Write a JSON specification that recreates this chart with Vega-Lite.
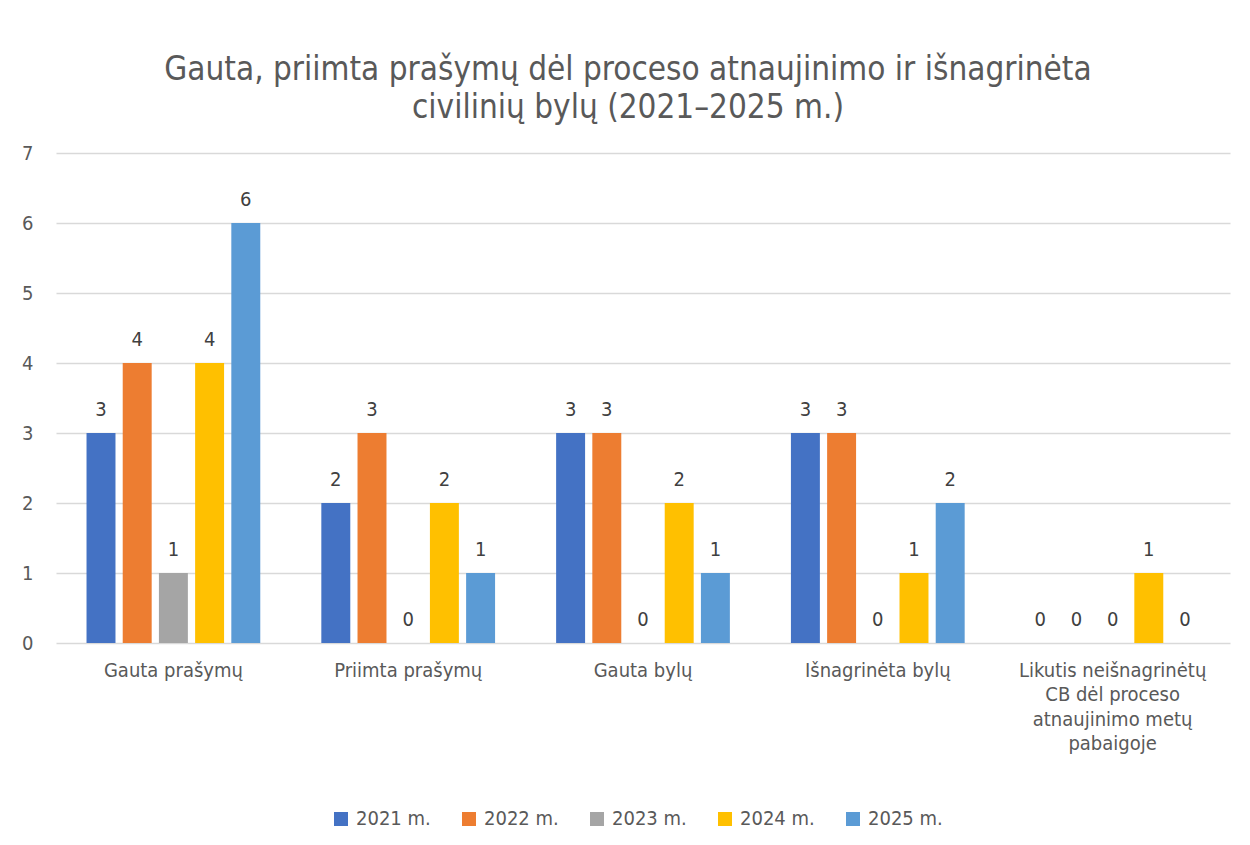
{
  "$schema": "https://vega.github.io/schema/vega-lite/v6.json",
  "width": 1174,
  "height": 490,
  "autosize": {"type": "none"},
  "padding": {"left": 56, "top": 153, "right": 20, "bottom": 202},
  "background": "white",
  "title": {
    "text": ["Gauta, priimta prašymų dėl proceso atnaujinimo ir išnagrinėta", "civilinių bylų (2021–2025 m.)"],
    "font": "DejaVu Sans Condensed, sans-serif",
    "fontSize": 33,
    "fontWeight": "normal",
    "color": "#595959",
    "anchor": "middle",
    "dx": -15,
    "offset": 18,
    "lineHeight": 38
  },
  "config": {
    "font": "DejaVu Sans Condensed, sans-serif",
    "view": {"stroke": null}
  },
  "data": {
    "values": [
      {"category": "Gauta prašymų", "year": "2021 m.", "value": 3},
      {"category": "Gauta prašymų", "year": "2022 m.", "value": 4},
      {"category": "Gauta prašymų", "year": "2023 m.", "value": 1},
      {"category": "Gauta prašymų", "year": "2024 m.", "value": 4},
      {"category": "Gauta prašymų", "year": "2025 m.", "value": 6},
      {"category": "Priimta prašymų", "year": "2021 m.", "value": 2},
      {"category": "Priimta prašymų", "year": "2022 m.", "value": 3},
      {"category": "Priimta prašymų", "year": "2023 m.", "value": 0},
      {"category": "Priimta prašymų", "year": "2024 m.", "value": 2},
      {"category": "Priimta prašymų", "year": "2025 m.", "value": 1},
      {"category": "Gauta bylų", "year": "2021 m.", "value": 3},
      {"category": "Gauta bylų", "year": "2022 m.", "value": 3},
      {"category": "Gauta bylų", "year": "2023 m.", "value": 0},
      {"category": "Gauta bylų", "year": "2024 m.", "value": 2},
      {"category": "Gauta bylų", "year": "2025 m.", "value": 1},
      {"category": "Išnagrinėta bylų", "year": "2021 m.", "value": 3},
      {"category": "Išnagrinėta bylų", "year": "2022 m.", "value": 3},
      {"category": "Išnagrinėta bylų", "year": "2023 m.", "value": 0},
      {"category": "Išnagrinėta bylų", "year": "2024 m.", "value": 1},
      {"category": "Išnagrinėta bylų", "year": "2025 m.", "value": 2},
      {"category": "Likutis neišnagrinėtų CB dėl proceso atnaujinimo metų pabaigoje", "year": "2021 m.", "value": 0},
      {"category": "Likutis neišnagrinėtų CB dėl proceso atnaujinimo metų pabaigoje", "year": "2022 m.", "value": 0},
      {"category": "Likutis neišnagrinėtų CB dėl proceso atnaujinimo metų pabaigoje", "year": "2023 m.", "value": 0},
      {"category": "Likutis neišnagrinėtų CB dėl proceso atnaujinimo metų pabaigoje", "year": "2024 m.", "value": 1},
      {"category": "Likutis neišnagrinėtų CB dėl proceso atnaujinimo metų pabaigoje", "year": "2025 m.", "value": 0}
    ]
  },
  "encoding": {
    "x": {
      "field": "category",
      "type": "nominal",
      "sort": null,
      "scale": {"paddingInner": 0.26, "paddingOuter": 0.13},
      "axis": {
        "title": null,
        "labelAngle": 0,
        "labelFontSize": 20,
        "labelColor": "#595959",
        "labelPadding": 17,
        "labelLineHeight": 24.5,
        "labelBaseline": "top",
        "labelLimit": 400,
        "ticks": false,
        "domain": false,
        "labelExpr": "datum.label == 'Likutis neišnagrinėtų CB dėl proceso atnaujinimo metų pabaigoje' ? ['Likutis neišnagrinėtų', 'CB dėl proceso', 'atnaujinimo metų', 'pabaigoje'] : datum.label"
      }
    },
    "xOffset": {
      "field": "year",
      "type": "nominal",
      "scale": {"paddingInner": 0.2, "paddingOuter": 0}
    },
    "y": {
      "field": "value",
      "type": "quantitative",
      "scale": {"domain": [0, 7], "nice": false},
      "axis": {
        "title": null,
        "values": [0, 1, 2, 3, 4, 5, 6, 7],
        "labelOverlap": false,
        "labelFontSize": 20,
        "labelColor": "#595959",
        "labelPadding": 23,
        "ticks": false,
        "domain": false,
        "gridColor": "#d9d9d9",
        "gridWidth": 1.5
      }
    }
  },
  "layer": [
    {
      "mark": {"type": "bar"},
      "encoding": {
        "color": {
          "field": "year",
          "type": "nominal",
          "scale": {
            "domain": ["2021 m.", "2022 m.", "2023 m.", "2024 m.", "2025 m."],
            "range": ["#4472C4", "#ED7D31", "#A5A5A5", "#FFC000", "#5B9BD5"]
          },
          "legend": {
            "title": null,
            "orient": "none",
            "direction": "horizontal",
            "legendX": 275,
            "legendY": 656,
            "symbolType": "square",
            "symbolSize": 196,
            "symbolStrokeWidth": 0,
            "labelFontSize": 20,
            "labelColor": "#595959",
            "columnPadding": 28,
            "labelOffset": 5
          }
        }
      }
    },
    {
      "mark": {"type": "text", "baseline": "bottom", "dy": -13, "fontSize": 20, "color": "#404040"},
      "encoding": {
        "text": {"field": "value", "type": "quantitative"}
      }
    }
  ]
}
